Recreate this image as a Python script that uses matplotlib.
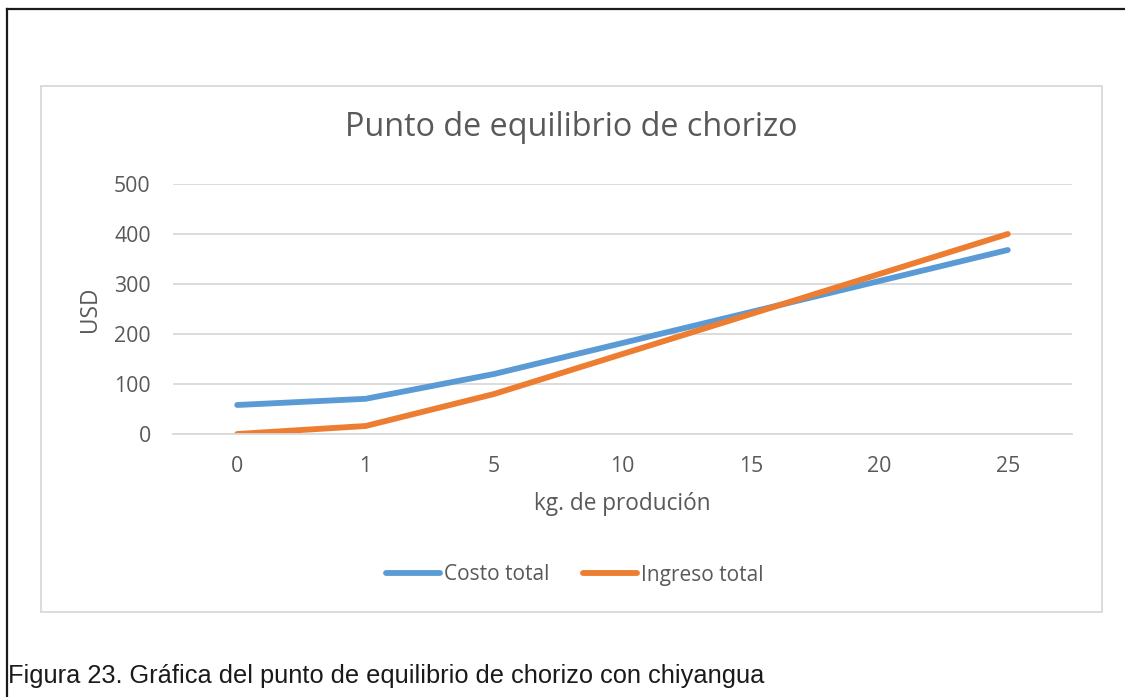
import numpy as np
import matplotlib.pyplot as plt
from matplotlib import font_manager
from matplotlib.lines import Line2D
from matplotlib.patches import Rectangle

kg = ['0', '1', '5', '10', '15', '20', '25']
costo_total = [58, 70.4, 120, 182, 244, 306, 368]
ingreso_total = [0, 16, 80, 160, 240, 320, 400]

W, H = 1125, 697
gray = '#595959'
grid = '#D9D9D9'
blue = '#5B9BD5'
orange = '#ED7D31'

names = set(f.name for f in font_manager.fontManager.ttflist)
cap_font = 'Liberation Sans Narrow' if 'Liberation Sans Narrow' in names else 'Liberation Sans'

plt.rcParams['font.family'] = ['Open Sans', 'DejaVu Sans']

fig = plt.figure(figsize=(W / 100, H / 100), dpi=100)

def fx(px):
    return px / W

def fy(py):
    return 1 - py / H

# outer frame: top and left edges only
fig.add_artist(Line2D([fx(7), 1], [fy(9), fy(9)], color='#1a1a1a', lw=1.6))
fig.add_artist(Line2D([fx(7), fx(7)], [fy(9), 0], color='#1a1a1a', lw=1.6))

# chart area box
fig.add_artist(Rectangle((fx(41), fy(612)), fx(1102) - fx(41), fy(86) - fy(612),
                         transform=fig.transFigure, fill=False, ec=grid, lw=1.3))

ax = fig.add_axes([fx(173), fy(434), fx(1072) - fx(173), fy(184) - fy(434)])
x = np.arange(len(kg))
ax.plot(x, costo_total, color=blue, lw=4.2, solid_capstyle='round',
        solid_joinstyle='round', label='Costo total')
ax.plot(x, ingreso_total, color=orange, lw=4.2, solid_capstyle='round',
        solid_joinstyle='round', label='Ingreso total')

ax.set_xlim(-0.5, len(kg) - 0.5)
ax.set_ylim(0, 500)
ax.set_xticks(x)
ax.set_xticklabels(kg)
ax.set_yticks(np.arange(0, 501, 100))
ax.tick_params(length=0, labelsize=15.3, labelcolor=gray)
ax.tick_params(axis='x', pad=16)
ax.tick_params(axis='y', pad=16)
ax.grid(axis='y', color=grid, lw=1.3)
ax.set_axisbelow(True)
for s in ax.spines.values():
    s.set_visible(False)
ax.spines['bottom'].set_visible(True)
ax.spines['bottom'].set_color(grid)
ax.spines['bottom'].set_linewidth(1.3)

fig.text(fx(571), fy(136), 'Punto de equilibrio de chorizo', ha='center',
         va='baseline', fontsize=23.3, color=gray)
fig.text(fx(90), fy(309), 'USD', rotation=90, ha='center', va='center',
         fontsize=16.3, color=gray)
fig.text(fx(622), fy(504), 'kg. de produción', ha='center', va='center',
         fontsize=16.3, color=gray)

fig.legend(loc='center', bbox_to_anchor=(fx(575), fy(575)), ncol=2,
           frameon=False, fontsize=15, labelcolor=gray, handlelength=2.6,
           handletextpad=0.2, columnspacing=1.6)

fig.text(fx(8), fy(683), 'Figura 23. Gráfica del punto de equilibrio de chorizo con chiyangua',
         ha='left', va='baseline', fontsize=18.3, color='#1a1a1a', family=cap_font)

fig.savefig('out.png', dpi=100)
